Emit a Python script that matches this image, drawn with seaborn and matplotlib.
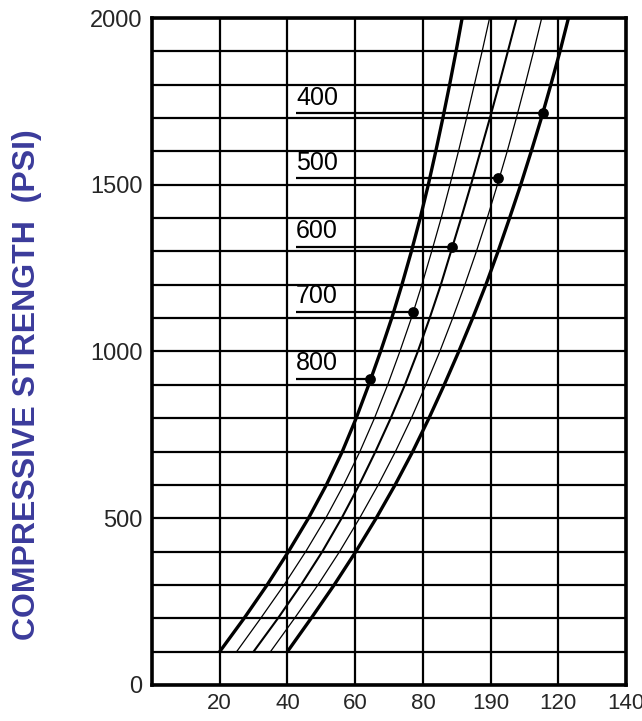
import numpy as np
import pandas as pd
import matplotlib
matplotlib.use("Agg")
import matplotlib.pyplot as plt
from matplotlib.ticker import MultipleLocator
import seaborn as sns

# ---- data ----
psi = [100, 200, 300, 400, 500, 600, 700, 800, 900, 1000,
       1100, 1200, 1300, 1400, 1500, 1600, 1700, 1800, 1900, 2000]
curve_800 = [20.0, 27.2, 34.0, 40.3, 46.2, 51.5, 56.2, 60.3, 64.0, 67.5,
             70.8, 73.8, 76.6, 79.2, 81.6, 83.8, 85.9, 87.9, 89.8, 91.6]
curve_700 = [25.0, 32.1, 39.0, 45.4, 51.3, 56.6, 61.4, 65.7, 69.6, 73.2,
             76.6, 79.7, 82.6, 85.4, 88.0, 90.5, 92.9, 95.2, 97.5, 99.7]
curve_600 = [30.0, 37.2, 44.0, 50.3, 56.0, 61.2, 66.0, 70.5, 74.7, 78.5,
             82.0, 85.3, 88.3, 91.3, 94.2, 97.0, 99.8, 102.5, 105.1, 107.7]
curve_500 = [35.0, 42.1, 49.0, 55.4, 61.3, 66.8, 71.9, 76.6, 80.9, 85.0,
             88.8, 92.4, 95.8, 99.0, 102.0, 104.9, 107.6, 110.2, 112.7, 115.1]
curve_400 = [40.0, 47.0, 53.8, 60.2, 66.2, 71.8, 77.0, 81.8, 86.3, 90.6,
             94.7, 98.6, 102.2, 105.6, 108.9, 112.0, 115.0, 117.8, 120.5, 123.0]

labels = ["800", "700", "600", "500", "400"]
dot_x = [64.4, 77.2, 88.6, 102.3, 115.5]
dot_y = [918, 1119, 1314, 1520, 1715]
label_start = 42.5

x_ticks = [20, 40, 60, 80, 100, 120, 140]
x_ticklabels = ["20", "40", "60", "80", "190", "120", "140"]
y_ticks = [0, 500, 1000, 1500, 2000]
y_ticklabels = ["0", "500", "1000", "1500", "2000"]
y_label = "COMPRESSIVE STRENGTH  (PSI)"

curves = {"800": curve_800, "700": curve_700, "600": curve_600,
          "500": curve_500, "400": curve_400}
df = pd.concat([pd.DataFrame({"curve": k, "x": v, "psi": psi})
                for k, v in curves.items()], ignore_index=True)
dots = pd.DataFrame({"curve": labels, "x": dot_x, "psi": dot_y})

# ---- styling ----
sns.set_style("white")
plt.rcParams["font.family"] = ["Liberation Sans", "DejaVu Sans"]

fig = plt.figure(figsize=(6.42, 7.21), dpi=100)
ax = fig.add_axes([0.2368, 0.050, 0.7383, 0.925])

ax.set_xlim(0, 140)
ax.set_ylim(0, 2000)
ax.set_xticks(x_ticks)
ax.set_xticklabels(x_ticklabels, fontsize=16)
ax.set_yticks(y_ticks)
ax.set_yticklabels(y_ticklabels, fontsize=17)
ax.yaxis.set_minor_locator(MultipleLocator(100))
ax.tick_params(axis="both", which="both", length=0)
ax.tick_params(axis="x", pad=6)
ax.tick_params(axis="y", pad=7)

ax.set_axisbelow(True)
ax.grid(True, axis="y", which="both", color="black", lw=1.6)
ax.grid(True, axis="x", which="major", color="black", lw=1.6)
for s in ax.spines.values():
    s.set_color("black")
    s.set_linewidth(2.6)

sns.lineplot(data=df, x="x", y="psi", hue="curve", size="curve",
             palette={k: "black" for k in labels},
             sizes={"800": 2.4, "700": 0.9, "600": 1.5, "500": 0.9, "400": 2.4},
             sort=False, estimator=None, legend=False, ax=ax, zorder=3)

# label leader lines and dots
for lab, dx, dy in zip(labels, dot_x, dot_y):
    ax.plot([label_start, dx], [dy, dy], color="black", lw=1.6, zorder=3,
            solid_capstyle="butt")
    ax.text(label_start, dy + 10, lab, fontsize=18, color="black",
            ha="left", va="bottom", zorder=4)

sns.scatterplot(data=dots, x="x", y="psi", color="black", s=60,
                edgecolor="black", linewidth=0, legend=False, ax=ax, zorder=5)

ax.set_xlabel("")
ax.set_ylabel("")
fig.text(0.042, 0.466, y_label, rotation=90, ha="center", va="center",
         fontsize=23, fontweight="bold", color="#3b3b9b",
         family=["Liberation Sans Narrow", "Liberation Sans", "DejaVu Sans"])

fig.savefig("out.png", dpi=100)
